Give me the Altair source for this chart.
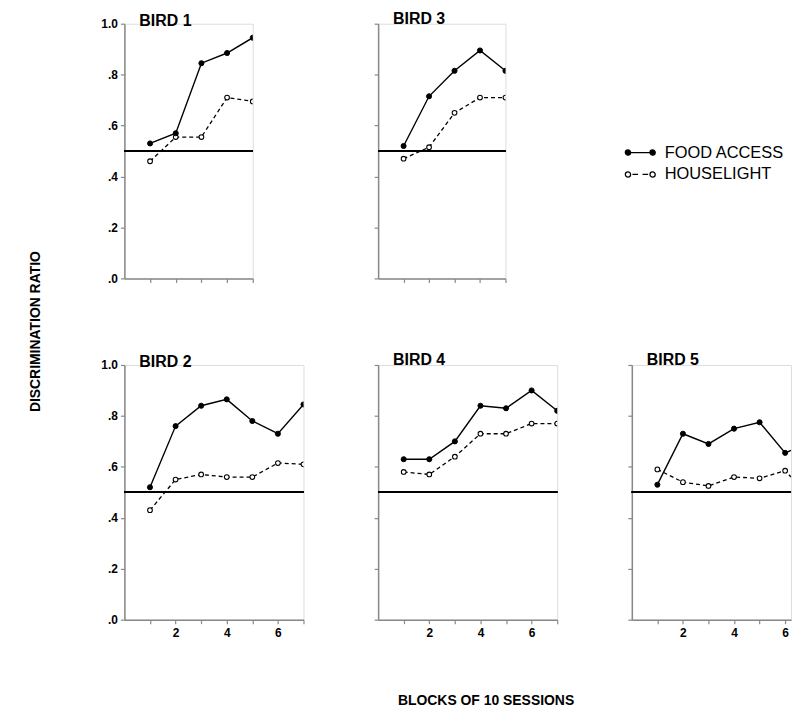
import altair as alt
import pandas as pd

SERIES = ["FOOD ACCESS", "HOUSELIGHT"]
blocks_top = [1, 2, 3, 4, 5]
blocks_bottom = [1, 2, 3, 4, 5, 6, 7]

bird1_food = [0.53, 0.57, 0.845, 0.885, 0.945]
bird1_house = [0.46, 0.555, 0.555, 0.71, 0.695]
bird3_food = [0.52, 0.715, 0.815, 0.895, 0.815]
bird3_house = [0.47, 0.515, 0.65, 0.71, 0.71]
bird2_food = [0.52, 0.76, 0.84, 0.865, 0.78, 0.73, 0.845]
bird2_house = [0.43, 0.55, 0.57, 0.56, 0.56, 0.615, 0.61]
bird4_food = [0.63, 0.63, 0.70, 0.84, 0.83, 0.90, 0.82]
bird4_house = [0.58, 0.57, 0.64, 0.73, 0.73, 0.77, 0.77]
bird5_food = [0.53, 0.73, 0.69, 0.75, 0.775, 0.655, 0.665]
bird5_house = [0.59, 0.54, 0.525, 0.56, 0.555, 0.585, 0.56]

CHANCE = 0.5
FONT = "Liberation Sans"


def circ(cx, r=0.35):
    return f"M{cx + r},0 A{r},{r} 0 1,0 {cx - r},0 A{r},{r} 0 1,0 {cx + r},0 Z "


PATH_FOOD = circ(-1.65) + circ(1.65) + "M-1.3,0 L1.3,0"
PATH_HOUSE = circ(-1.65) + circ(1.65) + "M-1.05,0 L-0.3,0 M0.3,0 L1.05,0"

fill_scale = alt.Scale(domain=SERIES, range=["black", "white"])
stroke_scale = alt.Scale(domain=SERIES, range=["black", "black"])
shape_scale = alt.Scale(domain=SERIES, range=[PATH_FOOD, PATH_HOUSE])


def frame(blocks, food, house):
    return pd.DataFrame({
        "block": blocks + blocks,
        "ratio": food + house,
        "series": [SERIES[0]] * len(blocks) + [SERIES[1]] * len(blocks),
    })


def panel(title, blocks, food, house, width, xmax, ylabels, xlabels,
          ytitle=None, xtitle=None):
    df = frame(blocks, food, house)
    xaxis_kw = dict(values=[b for b in blocks if b <= xmax], tickSize=4,
                    tickWidth=1.2, domainWidth=1.5, grid=False,
                    labelFont=FONT, labelFontSize=12, labelFontWeight="bold",
                    labelPadding=4, title=None)
    if xlabels:
        xaxis_kw["labelExpr"] = "datum.value % 2 == 0 ? datum.value : ''"
    else:
        xaxis_kw["labels"] = False
    if xtitle:
        xaxis_kw.update(title=xtitle, titleX=108, titleY=85,
                        titleBaseline="alphabetic", titleFont=FONT,
                        titleFontSize=14, titleFontWeight="bold",
                        titleAlign="center")
    yaxis_kw = dict(values=[i / 10 for i in range(11)], tickSize=4,
                    tickWidth=1.2, domainWidth=1.5, grid=False,
                    labelFont=FONT, labelFontSize=12, labelFontWeight="bold",
                    labelPadding=3, title=None)
    if ylabels:
        yaxis_kw["labelExpr"] = ("round(datum.value*10) % 2 == 0 ? "
                                 "(datum.value >= 1 ? '1.0' : '.' + round(datum.value*10)) : ''")
    else:
        yaxis_kw["labels"] = False
    if ytitle:
        yaxis_kw.update(title=ytitle, titleX=-82, titleY=309, titleFont=FONT,
                        titleFontSize=14, titleFontWeight="bold",
                        titleAngle=270, titleAlign="center",
                        titleBaseline="bottom")

    # the last panel is cut at the picture's right edge: clamp keeps the
    # last segment inside the plot instead of running past the page
    base = alt.Chart(df).encode(
        x=alt.X("block:Q",
                scale=alt.Scale(domain=[0, xmax], nice=False,
                                clamp=max(blocks) > xmax),
                axis=alt.Axis(**xaxis_kw)),
        y=alt.Y("ratio:Q", scale=alt.Scale(domain=[0, 1], nice=False),
                axis=alt.Axis(**yaxis_kw)),
    )
    food_q = f"datum.series == '{SERIES[0]}'"
    house_q = f"datum.series == '{SERIES[1]}'"
    inside = f"datum.block <= {xmax}"
    rule = alt.Chart(df).mark_rule(color="black", strokeWidth=1.5).encode(
        y=alt.datum(CHANCE))
    line_f = base.transform_filter(food_q).mark_line(
        color="black", strokeWidth=1.4, clip=True)
    line_h = base.transform_filter(house_q).mark_line(
        color="black", strokeWidth=1.3, strokeDash=[4, 3], clip=True)
    pts_f = base.transform_filter(food_q).transform_filter(inside).mark_point(
        size=26, stroke="black", strokeWidth=1, fill="black", opacity=1,
        filled=True, clip=True)
    pts_h = base.transform_filter(house_q).transform_filter(inside).mark_point(
        size=22, stroke="black", strokeWidth=1.1, fill="white", opacity=1,
        filled=False, clip=True)
    return alt.layer(rule, line_h, line_f, pts_h, pts_f).properties(
        width=width, height=256,
        title=alt.TitleParams(text=title, anchor="start", frame="group", dx=15,
                              offset=-11 if ylabels else -4, font=FONT,
                              fontSize=16, fontWeight="bold", color="black"),
    )


lg = dict(title=None, orient="none", legendX=510, legendY=121,
          labelFont=FONT, labelFontSize=16.5, labelColor="black",
          symbolSize=225, symbolStrokeWidth=1.3,
          labelOffset=16, rowPadding=5, padding=0)
legend_cell = alt.Chart(frame(blocks_top, bird3_food, bird3_house)).transform_filter(
    "false").mark_point(opacity=1, filled=False).encode(
    shape=alt.Shape("series:N", scale=shape_scale, legend=alt.Legend(**lg)),
    fill=alt.Fill("series:N", scale=fill_scale, legend=alt.Legend(**lg)),
    stroke=alt.Stroke("series:N", scale=stroke_scale, legend=alt.Legend(**lg)),
).properties(width=100, height=256)

p1 = panel("BIRD 1", blocks_top, bird1_food, bird1_house, 129, 5, True, False,
           ytitle="DISCRIMINATION RATIO")
p3 = panel("BIRD 3", blocks_top, bird3_food, bird3_house, 128, 5, False, False)
p2 = panel("BIRD 2", blocks_bottom, bird2_food, bird2_house, 180, 7, True, True)
p4 = panel("BIRD 4", blocks_bottom, bird4_food, bird4_house, 180, 7, False, True,
           xtitle="BLOCKS OF 10 SESSIONS")
p5 = panel("BIRD 5", blocks_bottom, bird5_food, bird5_house, 160, 6.23, False, True)

chart = alt.concat(p1, p3, legend_cell, p2, p4, p5, columns=3,
                   spacing={"row": 87, "column": 75}, bounds="flush").properties(
    padding={"left": 20, "top": 0, "right": 0, "bottom": 0},
).configure_view(stroke=None).configure_axis(
    domainColor="black", tickColor="black", labelColor="black",
    titleColor="black"
).configure(background="white")

chart.save("out.html", embed_options={"renderer": "svg", "actions": False})
